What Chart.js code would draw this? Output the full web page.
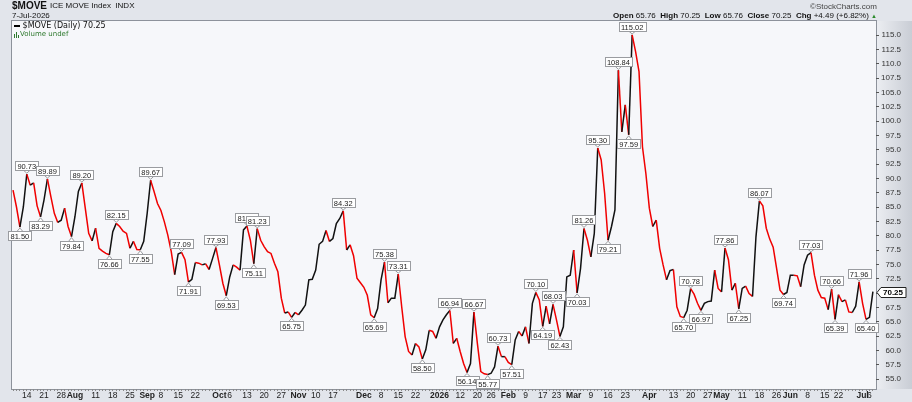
<!DOCTYPE html>
<html>
<head>
<meta charset="utf-8">
<script src="https://cdn.jsdelivr.net/npm/chart.js@4.4.1/dist/chart.umd.min.js"></script>
<style>
  body { margin: 0; background: #e2e5eb; }
  #wrap { position: relative; width: 912px; height: 402px; overflow: hidden; font-family: "Liberation Sans", Arial, sans-serif; }
  #chart { position: absolute; left: 0; top: 0; }
  .t { position: absolute; white-space: nowrap; line-height: 1; color: #111; }
  .t b { font-weight: bold; }
  .vb { display: inline-block; width: 1px; background: #2f7a2f; margin-right: 1px; vertical-align: bottom; }
</style>
</head>
<body>
<div id="wrap">
  <canvas id="chart" width="912" height="402"></canvas>
  <div class="t" style="left:12px;top:1px;font-size:10px;font-weight:bold">$MOVE</div>
  <div class="t" style="left:50px;top:2px;font-size:8px">ICE MOVE Index&nbsp; INDX</div>
  <div class="t" style="left:12px;top:12px;font-size:8px">7-Jul-2026</div>
  <div class="t" style="left:810px;top:3px;font-size:8px;color:#444">&copy;StockCharts.com</div>
  <div class="t" style="right:35px;top:12px;font-size:8px"><b>Open</b> 65.76&nbsp; <b>High</b> 70.25&nbsp; <b>Low</b> 65.76&nbsp; <b>Close</b> 70.25&nbsp; <b>Chg</b> +4.49 (+6.82%) <span style="color:#2a8a2a;font-size:6px">&#9650;</span></div>
  <div class="t" style="left:14px;top:22px;font-size:8px;font-family:'DejaVu Sans',sans-serif"><span style="display:inline-block;width:6px;height:2px;background:#000;vertical-align:middle"></span> $MOVE (Daily) 70.25</div>
  <div class="t" style="left:14px;top:31px;font-size:7px;color:#2f7a2f;font-family:'DejaVu Sans',sans-serif"><span class="vb" style="height:4px"></span><span class="vb" style="height:6px"></span><span class="vb" style="height:3px"></span>Volume undef</div>
</div>
<script>
// trading calendar
const firstDay = "2025-07-08";
const lastDay = "2026-07-07";
const holidays = ["2025-09-01", "2025-11-27", "2025-12-25", "2026-01-01", "2026-01-19",
  "2026-02-16", "2026-04-03", "2026-05-25", "2026-06-19", "2026-07-03"];

// daily close of $MOVE
const moveClose = [
  87.96, 85.0, 81.50, 85.0, 90.73, 88.8, 89.2, 85.2, 83.29, 86.2,
  89.89, 86.8, 83.9, 82.3, 82.7, 84.8, 81.6, 79.84, 83.3, 87.7,
  89.20, 84.8, 80.4, 79.1, 81.3, 77.8, 77.3, 76.9, 76.66, 80.7,
  82.15, 81.6, 80.8, 80.4, 77.8, 79.0, 77.6, 77.55, 79.0, 83.9,
  89.67, 87.7, 85.6, 84.4, 82.4, 80.1, 77.2, 73.2, 76.8, 77.09,
  75.8, 71.91, 72.4, 75.3, 75.2, 74.9, 75.1, 74.1, 76.0, 77.93,
  74.9, 71.7, 69.53, 72.8, 74.9, 74.5, 74.0, 81.0, 81.67, 79.2,
  75.11, 81.23, 79.2, 78.1, 77.2, 76.9, 75.2, 73.7, 69.1, 66.5,
  66.7, 65.75, 66.6, 66.2, 67.0, 67.9, 72.3, 72.4, 74.0, 78.5,
  79.0, 80.9, 79.0, 79.5, 82.1, 83.0, 84.32, 77.5, 78.4, 76.5,
  72.6, 71.8, 71.0, 69.6, 66.2, 65.69, 67.3, 72.3, 75.38, 68.3,
  69.1, 69.1, 73.31, 67.6, 62.4, 59.8, 59.2, 61.2, 60.6, 58.50,
  60.1, 63.5, 63.3, 62.1, 64.1, 65.3, 66.2, 66.94, 61.2, 62.1,
  59.8, 57.7, 56.14, 57.7, 66.67, 61.2, 56.3, 55.9, 55.77, 56.0,
  57.1, 60.73, 58.9, 58.9, 57.9, 57.51, 61.8, 63.3, 62.5, 64.1,
  61.2, 68.2, 70.10, 68.8, 64.19, 67.7, 64.6, 68.03, 65.3, 62.43,
  64.1, 72.8, 73.1, 77.5, 70.03, 74.3, 81.26, 79.2, 76.3, 80.4,
  95.30, 93.2, 87.4, 79.21, 81.6, 84.5, 108.84, 98.1, 102.8, 97.59,
  115.02, 112.1, 108.6, 95.5, 90.8, 84.8, 81.6, 82.7, 77.8, 74.9,
  72.3, 73.9, 74.1, 67.6, 65.9, 65.70, 67.0, 70.78, 69.8, 68.2,
  66.97, 68.2, 68.5, 68.6, 74.0, 70.8, 70.2, 77.86, 75.8, 70.5,
  71.7, 67.25, 70.8, 71.2, 69.9, 69.4, 79.8, 86.07, 85.2, 81.3,
  79.4, 78.0, 74.3, 70.5, 69.74, 70.1, 73.1, 73.1, 73.0, 71.1,
  74.9, 76.6, 77.03, 73.1, 70.5, 69.2, 69.1, 67.1, 70.66, 65.39,
  69.7, 68.5, 68.8, 66.7, 66.6, 67.7, 71.96, 68.2, 65.40, 65.76,
  70.25
];

// swing points that carry a value tag
const highIdx = [4, 10, 20, 30, 40, 49, 59, 68, 71, 96, 108, 112, 127, 134, 141, 152, 157,
  166, 170, 176, 180, 197, 207, 217, 232, 238, 246];
const lowIdx = [2, 8, 17, 28, 37, 51, 62, 70, 81, 105, 119, 132, 138, 145, 154, 159, 164,
  173, 179, 195, 200, 211, 224, 239, 248];

const dateTicks = [
  ["2025-07-14", "14"], ["2025-07-21", "21"], ["2025-07-28", "28"], ["2025-08-01", "Aug"],
  ["2025-08-11", "11"], ["2025-08-18", "18"], ["2025-08-25", "25"], ["2025-09-02", "Sep"],
  ["2025-09-08", "8"], ["2025-09-15", "15"], ["2025-09-22", "22"], ["2025-10-01", "Oct"],
  ["2025-10-06", "6"], ["2025-10-13", "13"], ["2025-10-20", "20"], ["2025-10-27", "27"],
  ["2025-11-03", "Nov"], ["2025-11-10", "10"], ["2025-11-17", "17"], ["2025-12-01", "Dec"],
  ["2025-12-08", "8"], ["2025-12-15", "15"], ["2025-12-22", "22"], ["2026-01-02", "2026"],
  ["2026-01-12", "12"], ["2026-01-20", "20"], ["2026-01-26", "26"], ["2026-02-02", "Feb"],
  ["2026-02-09", "9"], ["2026-02-17", "17"], ["2026-02-23", "23"], ["2026-03-02", "Mar"],
  ["2026-03-09", "9"], ["2026-03-16", "16"], ["2026-03-23", "23"], ["2026-04-01", "Apr"],
  ["2026-04-13", "13"], ["2026-04-20", "20"], ["2026-04-27", "27"], ["2026-05-01", "May"],
  ["2026-05-11", "11"], ["2026-05-18", "18"], ["2026-05-26", "26"], ["2026-06-01", "Jun"],
  ["2026-06-08", "8"], ["2026-06-15", "15"], ["2026-06-22", "22"], ["2026-07-01", "Jul"],
  ["2026-07-06", "6"]
];

const yTicks = [55, 57.5, 60, 62.5, 65, 67.5, 70, 72.5, 75, 77.5, 80, 82.5, 85, 87.5, 90,
  92.5, 95, 97.5, 100, 102.5, 105, 107.5, 110, 112.5, 115];

const FONT = '"Liberation Sans", Arial, sans-serif';

function tradingDays(from, to, skip) {
  let out = [];
  let d = new Date(from + "T00:00:00Z");
  let end = new Date(to + "T00:00:00Z");
  while (d <= end) {
    let s = d.toISOString().slice(0, 10);
    let wd = d.getUTCDay();
    if (wd !== 0 && wd !== 6 && !skip.includes(s)) out.push(s);
    d.setUTCDate(d.getUTCDate() + 1);
  }
  return out;
}

const days = tradingDays(firstDay, lastDay, holidays);
let tickText = {};
dateTicks.forEach((t) => {
  let i = days.indexOf(t[0]);
  if (i >= 0) tickText[i] = t[1];
});

// backgrounds and plot frame
const frame = {
  id: "frame",
  beforeDraw(chart) {
    const { ctx, chartArea: a } = chart;
    ctx.save();
    ctx.fillStyle = "#e2e5eb";
    ctx.fillRect(0, 0, chart.width, chart.height);
    let g = ctx.createLinearGradient(a.right, 0, chart.width, 0);
    g.addColorStop(0, "#eceef2");
    g.addColorStop(1, "#c9cdd5");
    ctx.fillStyle = g;
    ctx.fillRect(a.right, a.top, chart.width - a.right, a.bottom - a.top);
    ctx.fillStyle = "#f6f7fa";
    ctx.fillRect(a.left, a.top, a.right - a.left, a.bottom - a.top);
    ctx.strokeStyle = "#8d929b";
    ctx.lineWidth = 1;
    ctx.strokeRect(a.left - 0.5, a.top - 0.5, a.right - a.left + 1, a.bottom - a.top + 1);
    ctx.restore();
  },
};

// boxed values at swing highs / lows
const swingLabels = {
  id: "swingLabels",
  afterDatasetsDraw(chart) {
    const meta = chart.getDatasetMeta(0);
    const ctx = chart.ctx;
    ctx.save();
    ctx.font = "7.5px " + FONT;
    ctx.textAlign = "center";
    ctx.textBaseline = "middle";
    ctx.lineWidth = 1;
    const draw = (i, up) => {
      let p = meta.data[i];
      let txt = moveClose[i].toFixed(2);
      let w = Math.ceil(ctx.measureText(txt).width) + 4;
      let h = 9;
      let bx = Math.round(p.x - w / 2) + 0.5;
      let by = up ? Math.round(p.y - 4 - h) + 0.5 : Math.round(p.y + 4) + 0.5;
      ctx.fillStyle = "#fff";
      ctx.strokeStyle = "#9a9ca0";
      ctx.beginPath();
      if (up) {
        ctx.moveTo(p.x - 3, by + h);
        ctx.lineTo(p.x + 3, by + h);
        ctx.lineTo(p.x, p.y - 1);
      } else {
        ctx.moveTo(p.x - 3, by);
        ctx.lineTo(p.x + 3, by);
        ctx.lineTo(p.x, p.y + 1);
      }
      ctx.closePath();
      ctx.fill();
      ctx.stroke();
      ctx.fillRect(bx, by, w, h);
      ctx.strokeRect(bx, by, w, h);
      ctx.fillStyle = "#222";
      ctx.fillText(txt, p.x, by + h / 2 + 0.5);
    };
    highIdx.forEach((i) => draw(i, true));
    lowIdx.forEach((i) => draw(i, false));
    ctx.restore();
  },
};

// last value tag on the price axis
const lastTag = {
  id: "lastTag",
  afterDraw(chart) {
    const { ctx, chartArea: a } = chart;
    let last = moveClose[moveClose.length - 1];
    let y = Math.round(chart.scales.y.getPixelForValue(last)) + 0.5;
    let x0 = a.right + 1;
    ctx.save();
    ctx.font = "bold 8px " + FONT;
    let w = Math.ceil(ctx.measureText(last.toFixed(2)).width) + 4;
    ctx.beginPath();
    ctx.moveTo(x0, y);
    ctx.lineTo(x0 + 4, y - 5);
    ctx.lineTo(x0 + 4 + w, y - 5);
    ctx.lineTo(x0 + 4 + w, y + 5);
    ctx.lineTo(x0 + 4, y + 5);
    ctx.closePath();
    ctx.fillStyle = "#fff";
    ctx.fill();
    ctx.strokeStyle = "#222";
    ctx.lineWidth = 1;
    ctx.stroke();
    ctx.fillStyle = "#000";
    ctx.textBaseline = "middle";
    ctx.fillText(last.toFixed(2), x0 + 6, y + 0.5);
    ctx.restore();
  },
};

new Chart(document.getElementById("chart"), {
  type: "line",
  data: {
    datasets: [
      {
        data: moveClose.map((v, i) => ({ x: i, y: v })),
        borderWidth: 1.5,
        pointRadius: 0,
        tension: 0,
        segment: {
          borderColor: (c) => (c.p1.parsed.y < c.p0.parsed.y ? "#f00000" : "#111111"),
        },
      },
    ],
  },
  options: {
    responsive: false,
    animation: false,
    layout: { padding: { left: 12, top: 21, right: 11, bottom: 0 } },
    plugins: { legend: { display: false }, tooltip: { enabled: false } },
    scales: {
      x: {
        type: "linear",
        min: -0.3,
        max: moveClose.length - 0.1,
        afterBuildTicks: (s) => {
          s.ticks = days.map((d, i) => ({ value: i }));
        },
        afterFit: (s) => {
          s.height = 13;
        },
        grid: { drawOnChartArea: false, tickLength: 2, color: "#8a8a8a" },
        border: { display: false },
        ticks: {
          autoSkip: false,
          maxRotation: 0,
          padding: 0,
          color: "#222",
          font: (c) => {
            let t = tickText[c.tick && c.tick.value] || "";
            return { family: FONT, size: 8.5, weight: /^[A-Z]|2026/.test(t) ? "bold" : "normal" };
          },
          callback: (v) => tickText[v] || "",
        },
      },
      y: {
        position: "right",
        min: 53.256,
        max: 117.442,
        afterBuildTicks: (s) => {
          s.ticks = yTicks.map((v) => ({ value: v }));
        },
        afterFit: (s) => {
          s.width = 25;
        },
        grid: { drawOnChartArea: false, tickLength: 3, color: "#555" },
        border: { display: false },
        ticks: {
          crossAlign: "far",
          padding: 1,
          color: "#333",
          font: { family: FONT, size: 8 },
          callback: (v) => v.toFixed(1),
        },
      },
    },
  },
  plugins: [frame, swingLabels, lastTag],
});
</script>
</body>
</html>
